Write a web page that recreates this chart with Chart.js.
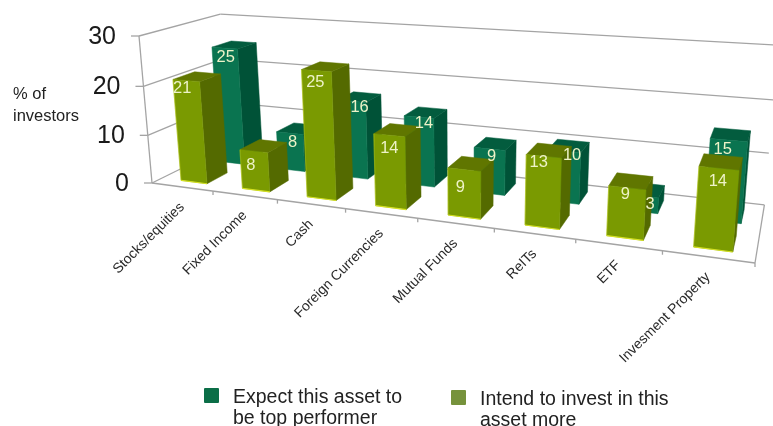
<!DOCTYPE html>
<html lang="en">
<head>
    <meta charset="UTF-8">
    <title>Asset class expectations</title>
    <script src="https://cdn.jsdelivr.net/npm/chart.js"></script>
    <style>
        html, body { margin: 0; height: 100%; overflow: hidden; background: #fff; }
        body { position: relative; width: 773px; height: 426px; font-family: "Liberation Sans", Arial, sans-serif; color: #222; }
        canvas { position: absolute; left: 0; top: 0; }
        #axisTitle { position: absolute; left: 13px; top: 82px; font-size: 16.5px; line-height: 22px; }
        .legendItem { position: absolute; font-size: 19.5px; line-height: 21px; }
        .legendItem i { position: absolute; left: -29px; top: 2px; width: 15px; height: 15px; border-radius: 1px; }
    </style>
</head>
<body>

<canvas id="assetChart" width="773" height="426"></canvas>
<div id="axisTitle">% of<br>investors</div>
<div id="legendBox"></div>

<script>
    const categories = ['Stocks/equities', 'Fixed Income', 'Cash', 'Foreign Currencies', 'Mutual Funds', 'ReITs', 'ETF', 'Invesment Property'];
    const expectValues = [25, 8, 16, 14, 9, 10, 3, 15];
    const intendValues = [21, 8, 25, 14, 9, 13, 9, 14];
    const seriesNames = ['Expect this asset to be top performer', 'Intend to invest in this asset more'];
    const yTicks = [0, 10, 20, 30];

    // Floor and wall corners of the box, plus the perspective weights along each axis
    const box = {
        origin: { x: 152, y: 183 },
        right: { x: 755, y: 263 },
        up: { x: 139, y: 36 },
        deep: { x: 229, y: 145 },
        wRight: -0.212,
        wUp: -0.04,
        wDeep: 0.13
    };

    // s = along the categories, h = up the value axis, d = into the chart (all 0..1)
    function project(s, h, d) {
        const w = 1 + box.wRight * s + box.wUp * h + box.wDeep * d;
        const axis = key => (
            box.origin[key]
            + (box.right[key] * (1 + box.wRight) - box.origin[key]) * s
            + (box.up[key] * (1 + box.wUp) - box.origin[key]) * h
            + (box.deep[key] * (1 + box.wDeep) - box.origin[key]) * d
        ) / w;
        return { x: axis('x'), y: axis('y') };
    }

    function polygon(ctx, points, fill) {
        ctx.beginPath();
        points.forEach((p, i) => i ? ctx.lineTo(p.x, p.y) : ctx.moveTo(p.x, p.y));
        ctx.closePath();
        ctx.fillStyle = fill;
        ctx.fill();
        ctx.strokeStyle = fill;
        ctx.lineWidth = 0.5;
        ctx.stroke();
    }

    function segment(ctx, a, b) {
        ctx.beginPath();
        ctx.moveTo(a.x, a.y);
        ctx.lineTo(b.x, b.y);
        ctx.stroke();
    }

    // The depth slot of each series, with hand-placed label offsets in pixels
    const rows = [
        {
            d0: 0.60, d1: 0.86, shift: 0.007, front: '#0a7450', top: '#035c3e', side: '#005237', edge: null,
            labelDx: [1, 3, 8, 5, 2, 8, 9, -6],
            labelDy: [-1, -1, -4, -4, -2, -6, -2, -1]
        },
        {
            d0: 0.12, d1: 0.38, shift: 0.004, front: '#7a9a01', top: '#607600', side: '#546a00', edge: '#d4e021',
            labelDx: [-4, -3, -1, 0, -4, -5, -2, -1],
            labelDy: [-2, 4, 2, 3, 8, -4, -3, 3]
        }
    ];

    const perspectiveBars = {
        id: 'perspectiveBars',
        beforeDatasetsDraw(chart) {
            const ctx = chart.ctx;
            const area = chart.chartArea;
            const xScale = chart.scales.x;
            const yScale = chart.scales.y;
            const width = area.right - area.left;
            const toH = v => (area.bottom - yScale.getPixelForValue(v)) / (area.bottom - area.top);

            ctx.save();
            ctx.strokeStyle = '#a4a4a4';
            ctx.lineWidth = 1.3;

            // Walls and tick marks of the value axis
            yScale.ticks.forEach(tick => {
                const h = toH(tick.value);
                const front = project(0, h, 0);
                const back = project(0, h, 1);
                segment(ctx, { x: front.x - 8, y: front.y }, front);
                segment(ctx, front, back);
                if (tick.value > 0) {
                    segment(ctx, back, project(tick.value === yTicks[1] ? 1 : 1.03, h, 1));
                } else {
                    segment(ctx, back, project(1, h, 1));
                }

                ctx.fillStyle = '#1a1a1a';
                ctx.font = '25px "Liberation Sans", Arial, sans-serif';
                ctx.textAlign = 'right';
                ctx.textBaseline = 'middle';
                ctx.fillText(tick.label, front.x - 23, front.y + 1);
            });
            segment(ctx, project(0, 0, 0), project(0, 1, 0));
            segment(ctx, project(0, 0, 0), project(1, 0, 0));
            segment(ctx, project(1, 0, 0), project(1, 0, 1));

            // Category ticks and slanted names under the front edge
            const halfStep = 0.5 / categories.length;
            xScale.ticks.forEach((tick, i) => {
                const s = (xScale.getPixelForTick(i) - area.left) / width;
                const mark = project(s + halfStep, 0, 0);
                segment(ctx, mark, { x: mark.x, y: mark.y + 4 });

                const anchor = project(s, 0, 0);
                ctx.save();
                ctx.translate(anchor.x, anchor.y + 18);
                ctx.rotate(-Math.PI / 4);
                ctx.fillStyle = '#2a2a2a';
                ctx.font = '14px "Liberation Sans", Arial, sans-serif';
                ctx.textAlign = 'right';
                ctx.textBaseline = 'middle';
                ctx.fillText(tick.label, 0, 0);
                ctx.restore();
            });
            ctx.restore();
        },
        afterDatasetsDraw(chart) {
            const ctx = chart.ctx;
            const area = chart.chartArea;
            const width = area.right - area.left;
            const height = area.bottom - area.top;
            const labels = [];

            ctx.save();
            chart.data.datasets.forEach((dataset, rowIndex) => {
                const row = rows[rowIndex];
                chart.getDatasetMeta(rowIndex).data.forEach((bar, i) => {
                    const s0 = (bar.x - bar.width / 2 - area.left) / width + row.shift;
                    const s1 = (bar.x + bar.width / 2 - area.left) / width + row.shift;
                    const h = (area.bottom - bar.y) / height;

                    polygon(ctx, [project(s1, 0, row.d0), project(s1, 0, row.d1), project(s1, h, row.d1), project(s1, h, row.d0)], row.side);
                    polygon(ctx, [project(s0, h, row.d0), project(s1, h, row.d0), project(s1, h, row.d1), project(s0, h, row.d1)], row.top);
                    polygon(ctx, [project(s0, 0, row.d0), project(s1, 0, row.d0), project(s1, h, row.d0), project(s0, h, row.d0)], row.front);
                    if (row.edge) {
                        ctx.strokeStyle = row.edge;
                        ctx.lineWidth = 1.2;
                        segment(ctx, project(s0, 0, row.d0), project(s1, 0, row.d0));
                        ctx.globalAlpha = 0.35;
                        segment(ctx, project(s0, 0, row.d0), project(s0, h, row.d0));
                        ctx.globalAlpha = 1;
                    }

                    const faceTop = project((s0 + s1) / 2, h, row.d0);
                    labels.push({
                        text: String(dataset.data[i]),
                        x: faceTop.x + row.labelDx[i],
                        y: faceTop.y + 10 + row.labelDy[i]
                    });
                });
            });

            // Values go on last so the front row never covers them
            ctx.fillStyle = '#eef3c8';
            ctx.font = '16.5px "Liberation Sans", Arial, sans-serif';
            ctx.textAlign = 'center';
            ctx.textBaseline = 'middle';
            labels.forEach(l => ctx.fillText(l.text, l.x, l.y));
            ctx.restore();
        }
    };

    new Chart(document.getElementById('assetChart'), {
        type: 'bar',
        data: {
            labels: categories,
            datasets: [
                { label: seriesNames[0], data: expectValues, backgroundColor: 'transparent' },
                { label: seriesNames[1], data: intendValues, backgroundColor: 'transparent' }
            ]
        },
        options: {
            responsive: false,
            animation: false,
            layout: { padding: 0 },
            plugins: { legend: { display: false }, tooltip: { enabled: false } },
            datasets: { bar: { grouped: false, categoryPercentage: 1, barPercentage: 0.43 } },
            scales: {
                x: { display: false, ticks: { autoSkip: false } },
                y: {
                    display: false,
                    min: yTicks[0],
                    max: yTicks[yTicks.length - 1],
                    ticks: { stepSize: yTicks[1] - yTicks[0] }
                }
            }
        },
        plugins: [perspectiveBars]
    });

    // Legend sits under the chart as ordinary page text
    const legendSpots = [[233, 386, 185], [480, 388, 205]];
    const legendColors = ['#0b6e47', '#76923c'];
    seriesNames.forEach((name, i) => {
        const item = document.createElement('div');
        item.className = 'legendItem';
        item.style.left = legendSpots[i][0] + 'px';
        item.style.top = legendSpots[i][1] + 'px';
        item.style.width = legendSpots[i][2] + 'px';
        item.innerHTML = '<i style="background:' + legendColors[i] + '"></i>' + name;
        document.getElementById('legendBox').appendChild(item);
    });
</script>

</body>
</html>
